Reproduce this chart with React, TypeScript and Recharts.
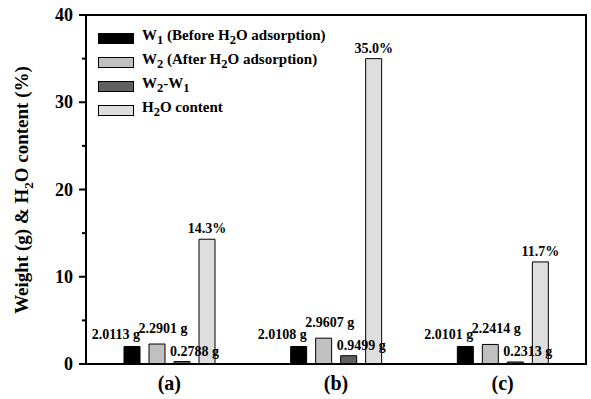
import React from 'react'
import { BarChart, Bar, XAxis, YAxis, Legend, LabelList, ReferenceArea } from 'recharts'

const categories = ['(a)', '(b)', '(c)']
const w1 = [2.0113, 2.0108, 2.0101]
const w2 = [2.2901, 2.9607, 2.2414]
const w2MinusW1 = [0.2788, 0.9499, 0.2313]
const h2oContent = [14.3, 35.0, 11.7]
const yTicks = [0, 5, 10, 15, 20, 25, 30, 35, 40]

const data = categories.map((c, i) => ({
  name: c,
  w1: w1[i],
  w2: w2[i],
  diff: w2MinusW1[i],
  h2o: h2oContent[i],
}))

const FONT = '"Liberation Serif", "Times New Roman", serif'

// label placement per series, roughly like the original figure
const makeLabel = (mode: 'left' | 'mid' | 'right' | 'top', unit: string) => (props: any) => {
  const { x, y, width, value } = props
  const text = unit === '%' ? `${Number(value).toFixed(1)}%` : `${Number(value).toFixed(4)} g`
  let tx = x + width / 2
  let ty = y - 6
  let anchor: 'start' | 'middle' | 'end' = 'middle'
  if (mode === 'left') {
    tx = x + width
    ty = y - 7
    anchor = 'end'
  } else if (mode === 'mid') {
    tx = x + width / 2 + 6
    ty = y - 11
  } else if (mode === 'right') {
    tx = x - 4
    ty = y - 6
    anchor = 'start'
  }
  return (
    <text x={tx} y={ty} textAnchor={anchor} fontFamily={FONT} fontWeight="bold" fontSize={14} fill="#000">
      {text}
    </text>
  )
}

const YTick = (props: any) => {
  const { x, y, payload } = props
  const major = payload.value % 10 === 0
  return (
    <g>
      <line x1={x - (major ? 7 : 4)} x2={x} y1={y} y2={y} stroke="#000" strokeWidth={2} />
      {major && (
        <text x={x - 13} y={y} dy={6} textAnchor="end" fontFamily={FONT} fontWeight="bold" fontSize={18} fill="#000">
          {payload.value}
        </text>
      )}
    </g>
  )
}

const XTick = (props: any) => {
  const { x, y, payload } = props
  return (
    <text x={x} y={y + 26} textAnchor="middle" fontFamily={FONT} fontWeight="bold" fontSize={20} fill="#000">
      {payload.value}
    </text>
  )
}

const legendItems = [
  { color: '#000000', label: <>W<sub>1</sub> (Before H<sub>2</sub>O adsorption)</> },
  { color: '#c0c0c0', label: <>W<sub>2</sub> (After H<sub>2</sub>O adsorption)</> },
  { color: '#606060', label: <>W<sub>2</sub>-W<sub>1</sub></> },
  { color: '#dedede', label: <>H<sub>2</sub>O content</> },
]

const LegendBox = () => (
  <div style={{ fontFamily: FONT, fontWeight: 'bold', fontSize: 15, color: '#000' }}>
    {legendItems.map((it, i) => (
      <div key={i} style={{ display: 'flex', alignItems: 'center', height: 24 }}>
        <div style={{ width: 34, height: 9, background: it.color, border: '1px solid #000', marginRight: 8 }} />
        <span style={{ lineHeight: '15px' }}>{it.label}</span>
      </div>
    ))}
  </div>
)

const YLabel = () => (
  <text
    transform="translate(28, 190) rotate(-90)"
    textAnchor="middle"
    fontFamily={FONT}
    fontWeight="bold"
    fontSize={19}
    fill="#000"
  >
    Weight (g) &amp; H
    <tspan dy={5} fontSize={13}>2</tspan>
    <tspan dy={-5}>O content (%)</tspan>
  </text>
)

export default function App() {
  return (
    <div style={{ position: 'absolute', left: 0, top: 0, width: 591, height: 399, background: '#fff' }}>
      <BarChart
        width={591}
        height={399}
        data={data}
        margin={{ top: 15, right: 5, bottom: 0, left: 0 }}
        barSize={16}
        barGap={9}
      >
        <ReferenceArea y1={0} y2={40} fill="none" stroke="#000" strokeWidth={2} />
        <XAxis
          dataKey="name"
          height={35}
          tickLine={false}
          tickSize={0}
          tickMargin={0}
          axisLine={{ stroke: '#000', strokeWidth: 2 }}
          tick={<XTick />}
        />
        <YAxis
          width={86}
          domain={[0, 40]}
          ticks={yTicks}
          interval={0}
          tickLine={false}
          tickSize={0}
          tickMargin={0}
          axisLine={{ stroke: '#000', strokeWidth: 2 }}
          tick={<YTick />}
          label={<YLabel />}
        />
        <Legend
          layout="vertical"
          align="center"
          verticalAlign="middle"
          wrapperStyle={{ top: 26, left: 98, width: 300 }}
          content={() => <LegendBox />}
        />
        <Bar dataKey="w1" fill="#000000" stroke="#000" strokeWidth={1} isAnimationActive={false}>
          <LabelList dataKey="w1" content={makeLabel('left', 'g')} />
        </Bar>
        <Bar dataKey="w2" fill="#c0c0c0" stroke="#000" strokeWidth={1} isAnimationActive={false}>
          <LabelList dataKey="w2" content={makeLabel('mid', 'g')} />
        </Bar>
        <Bar dataKey="diff" fill="#606060" stroke="#000" strokeWidth={1} isAnimationActive={false}>
          <LabelList dataKey="diff" content={makeLabel('right', 'g')} />
        </Bar>
        <Bar dataKey="h2o" fill="#dedede" stroke="#000" strokeWidth={1} isAnimationActive={false}>
          <LabelList dataKey="h2o" content={makeLabel('top', '%')} />
        </Bar>
      </BarChart>
    </div>
  )
}
